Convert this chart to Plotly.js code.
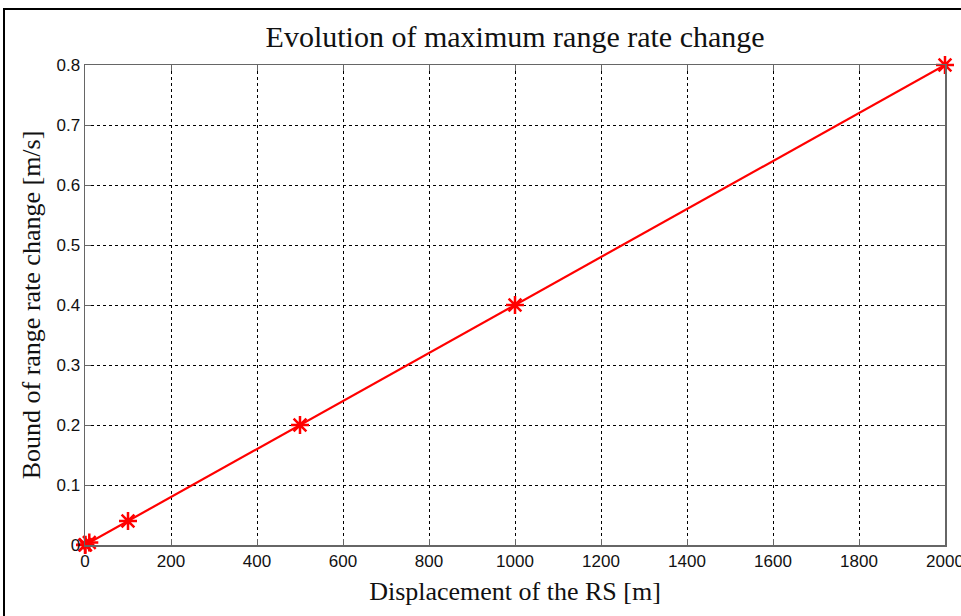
<!DOCTYPE html>
<html><head><meta charset="utf-8">
<script src="https://cdn.plot.ly/plotly-3.0.1.min.js"></script>
<style>html,body{margin:0;padding:0;background:#fff;}#chart{width:961px;height:616px;}
#frame{position:absolute;left:3px;top:8px;width:2000px;height:2000px;border-left:2px solid #000;border-top:2px solid #000;pointer-events:none;}</style>
</head><body>
<div id="chart"></div><div id="frame"></div>
<script>
const displacement = [0, 1, 10, 100, 500, 1000, 2000];
const rateBound = [0, 0.0004, 0.004, 0.04, 0.2, 0.4, 0.8];
const xTicks = [0, 200, 400, 600, 800, 1000, 1200, 1400, 1600, 1800, 2000];
const yTicks = [0, 0.1, 0.2, 0.3, 0.4, 0.5, 0.6, 0.7, 0.8];

const trace = {
  x: displacement, y: rateBound, type: 'scatter', mode: 'lines+markers',
  line: {color: '#ff0000', width: 2.2},
  marker: {symbol: 'asterisk-open', size: 15, color: '#ff0000', line: {color: '#ff0000', width: 2.5}},
  cliponaxis: false, showlegend: false
};
const axisCommon = {
  showline: true, mirror: 'ticks', linecolor: '#666', linewidth: 1.5,
  showgrid: true, gridcolor: '#000', griddash: 'dot', gridwidth: 1,
  ticks: 'inside', ticklen: 6, tickcolor: '#666', zeroline: false,
  ticklabeloverflow: 'allow',
  tickfont: {family: 'Liberation Sans Narrow, Arial Narrow, Liberation Sans, sans-serif', size: 17, color: '#111'}
};
const serif = 'Liberation Serif, DejaVu Serif, serif';
const layout = {
  width: 961, height: 616,
  margin: {l: 85, r: 16, t: 65, b: 71},
  paper_bgcolor: '#fff', plot_bgcolor: '#fff',
  title: {text: 'Evolution of maximum range rate change', x: 0.536, xanchor: 'center', y: 0.94, yanchor: 'middle',
          font: {family: serif, size: 30, color: '#111'}},
  xaxis: Object.assign({}, axisCommon, {range: [0, 2000], tickvals: xTicks, ticktext: xTicks.map(String),
    title: {text: 'Displacement of the RS [m]', standoff: 12, font: {family: serif, size: 26, color: '#111'}}}),
  yaxis: Object.assign({}, axisCommon, {range: [0, 0.8], tickvals: yTicks, ticktext: yTicks.map(String),
    title: {text: 'Bound of range rate change [m/s]', standoff: 8, font: {family: serif, size: 26, color: '#111'}}})
};
Plotly.newPlot('chart', [trace], layout, {displayModeBar: false, staticPlot: true});
</script>
</body></html>
